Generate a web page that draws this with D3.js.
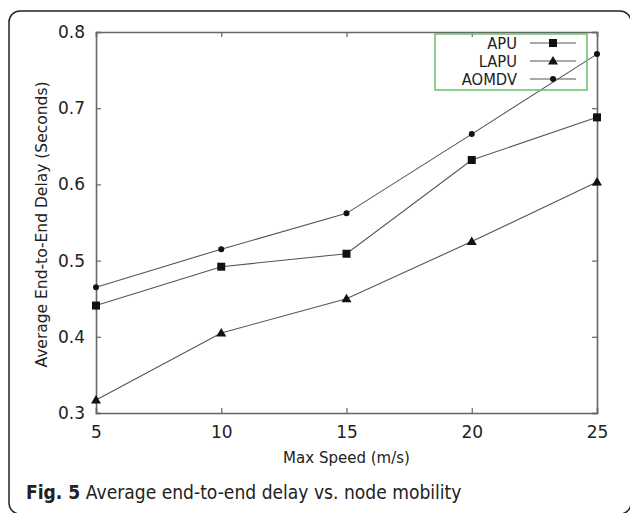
<!DOCTYPE html>
<html>
<head>
<meta charset="utf-8">
<script src="https://d3js.org/d3.v7.min.js"></script>
<style>
  body { margin: 0; background: #fff; }
  text { font-family: "DejaVu Sans", sans-serif; fill: #222; }
</style>
</head>
<body>
<svg id="chart" width="630" height="513"></svg>
<script>
const speeds = [5, 10, 15, 20, 25];
const apu = [0.441, 0.492, 0.509, 0.632, 0.688];
const lapu = [0.317, 0.405, 0.450, 0.525, 0.603];
const aomdv = [0.465, 0.515, 0.562, 0.666, 0.771];
const yTicks = [0.3, 0.4, 0.5, 0.6, 0.7, 0.8];
const seriesNames = ["APU", "LAPU", "AOMDV"];

const svg = d3.select("#chart");
const mLeft = 96, mRight = 597, mTop = 32, mBottom = 413;

// outer figure frame
svg.append("rect").attr("x", 9).attr("y", 11).attr("width", 622).attr("height", 503)
  .attr("rx", 11).attr("fill", "none").attr("stroke", "#222").attr("stroke-width", 1.5);

const x = d3.scaleLinear().domain([5, 25]).range([mLeft, mRight]);
const y = d3.scaleLinear().domain([0.3, 0.8]).range([mBottom, mTop]);

const axisCol = "#666";
const gx = svg.append("g").attr("transform", `translate(0,${mBottom})`)
  .call(d3.axisBottom(x).tickValues(speeds).tickSize(-5).tickPadding(13).tickFormat(d3.format("d")));
const gy = svg.append("g").attr("transform", `translate(${mLeft},0)`)
  .call(d3.axisLeft(y).tickValues(yTicks).tickSize(-5).tickPadding(11).tickFormat(d3.format(".1f")));
// mirror ticks top and right
const gt = svg.append("g").attr("transform", `translate(0,${mTop})`)
  .call(d3.axisTop(x).tickValues(speeds).tickSize(-5).tickFormat(""));
const gr = svg.append("g").attr("transform", `translate(${mRight},0)`)
  .call(d3.axisRight(y).tickValues(yTicks).tickSize(-5).tickFormat(""));
[gx, gy, gt, gr].forEach(g => {
  g.select(".domain").attr("stroke", axisCol).attr("stroke-width", 1.6);
  g.selectAll(".tick line").attr("stroke", axisCol).attr("stroke-width", 1.2);
  g.selectAll(".tick text").attr("font-size", 17).attr("fill", "#222")
    .attr("font-family", "DejaVu Sans, sans-serif");
});

// axis titles
svg.append("text").attr("x", (mLeft + mRight) / 2).attr("y", 463)
  .attr("text-anchor", "middle").attr("font-size", 15).text("Max Speed (m/s)");
svg.append("text").attr("transform", `translate(47,${(mTop + mBottom) / 2 + 2}) rotate(-90)`)
  .attr("text-anchor", "middle").attr("font-size", 15.5).text("Average End-to-End Delay (Seconds)");

const lineCol = "#555";
const markers = {
  APU: (g, cx, cy) => g.append("rect").attr("x", cx - 4).attr("y", cy - 4).attr("width", 8).attr("height", 8).attr("fill", "#111"),
  LAPU: (g, cx, cy) => g.append("path").attr("d", `M${cx},${cy - 5}L${cx + 5},${cy + 3.5}L${cx - 5},${cy + 3.5}Z`).attr("fill", "#111"),
  AOMDV: (g, cx, cy) => g.append("circle").attr("cx", cx).attr("cy", cy).attr("r", 3).attr("fill", "#111")
};
const seriesVals = { APU: apu, LAPU: lapu, AOMDV: aomdv };

const line = d3.line().x(d => x(d[0])).y(d => y(d[1]));
seriesNames.forEach(name => {
  const pts = speeds.map((s, i) => [s, seriesVals[name][i]]);
  svg.append("path").datum(pts).attr("d", line).attr("fill", "none")
    .attr("stroke", lineCol).attr("stroke-width", 1.1);
  const g = svg.append("g");
  pts.forEach(p => markers[name](g, x(p[0]), y(p[1])));
});

// legend
const lg = svg.append("g");
lg.append("rect").attr("x", 435).attr("y", 34).attr("width", 152).attr("height", 56)
  .attr("fill", "none").attr("stroke", "#6cbf6c").attr("stroke-width", 1.5);
seriesNames.forEach((name, i) => {
  const ly = 43 + i * 18;
  lg.append("text").attr("x", 517).attr("y", ly).attr("dy", "0.36em")
    .attr("text-anchor", "end").attr("font-size", 16).attr("transform", `translate(517,0) scale(0.92,1) translate(-517,0)`)
    .text(name);
  lg.append("line").attr("x1", 530).attr("x2", 576).attr("y1", ly).attr("y2", ly)
    .attr("stroke", lineCol).attr("stroke-width", 1.2);
  markers[name](lg, 553, ly);
});

// caption
const cap = svg.append("text").attr("transform", "translate(26,499) scale(0.88,1)")
  .attr("font-size", 19.5).attr("font-family", "Open Sans, sans-serif").attr("fill", "#222");
cap.append("tspan").attr("font-weight", "bold").text("Fig. 5");
cap.append("tspan").text(" Average end-to-end delay vs. node mobility");
</script>
</body>
</html>
